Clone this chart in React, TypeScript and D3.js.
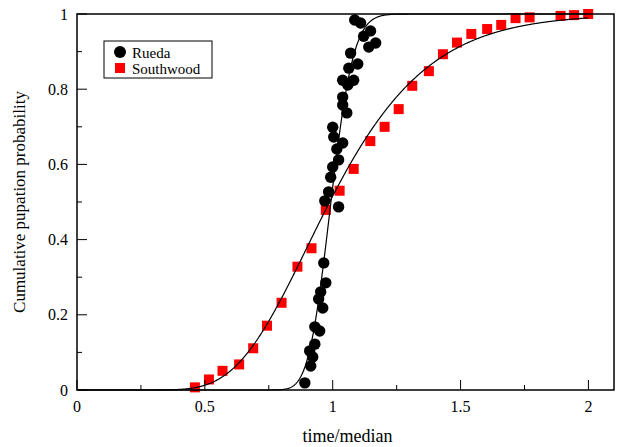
import React from "react";
import * as d3 from "d3";

// Rueda observations: [time/median, cumulative probability]
const ruedaX = [0.891, 0.914, 0.922, 0.910, 0.930, 0.949, 0.930, 0.961, 0.945, 0.953, 0.973, 0.965, 1.023, 0.969, 0.984, 0.992, 1.000, 1.023, 1.016, 1.039, 1.004, 1.000, 1.055, 1.039, 1.039, 1.059, 1.039, 1.082, 1.063, 1.098, 1.070, 1.141, 1.168, 1.121, 1.148, 1.109, 1.086];
const ruedaY = [0.019, 0.064, 0.088, 0.104, 0.122, 0.157, 0.168, 0.218, 0.242, 0.261, 0.285, 0.338, 0.487, 0.503, 0.527, 0.566, 0.593, 0.612, 0.641, 0.657, 0.673, 0.699, 0.737, 0.758, 0.779, 0.811, 0.824, 0.824, 0.856, 0.867, 0.896, 0.912, 0.923, 0.941, 0.955, 0.976, 0.984];

// Southwood observations
const southX = [0.461, 0.516, 0.569, 0.634, 0.689, 0.743, 0.800, 0.862, 0.917, 0.973, 1.027, 1.082, 1.147, 1.203, 1.258, 1.311, 1.376, 1.431, 1.486, 1.542, 1.604, 1.659, 1.715, 1.770, 1.891, 1.944, 1.999];
const southY = [0.007, 0.028, 0.051, 0.068, 0.111, 0.171, 0.232, 0.328, 0.377, 0.479, 0.530, 0.588, 0.662, 0.700, 0.747, 0.809, 0.848, 0.893, 0.924, 0.947, 0.960, 0.971, 0.989, 0.991, 0.995, 0.997, 1.000];

// Fitted log-normal curves: [median, sigma]
const ruedaFit = [0.993, 0.07];
const southFit = [0.988, 0.305];

const xTicks = [0, 0.5, 1, 1.5, 2];
const xTickLabels = ["0", "0.5", "1", "1.5", "2"];
const xMinor = [0.25, 0.75, 1.25, 1.75];
const yTicks = [0, 0.2, 0.4, 0.6, 0.8, 1];
const yTickLabels = ["0", "0.2", "0.4", "0.6", "0.8", "1"];
const yMinor = [0.1, 0.3, 0.5, 0.7, 0.9];

const seriesNames = ["Rueda", "Southwood"];

const W = 617, H = 447;
const left = 77, right = 614, top = 14, bottom = 390;
const font = "'Liberation Serif', 'Times New Roman', serif";

function erf(v: number) {
  const s = v < 0 ? -1 : 1;
  const a = Math.abs(v);
  const t = 1 / (1 + 0.3275911 * a);
  const y = 1 - (((((1.061405429 * t - 1.453152027) * t) + 1.421413741) * t - 0.284496736) * t + 0.254829592) * t * Math.exp(-a * a);
  return s * y;
}

function lognormCdf(p: number[], x: number) {
  const [m, s] = p;
  if (x <= 0) return 0;
  const z = Math.log(x / m) / s;
  return 0.5 * (1 + erf(z / Math.SQRT2));
}

export default function App() {
  const x = d3.scaleLinear().domain([0, 2.1]).range([left, right]);
  const y = d3.scaleLinear().domain([0, 1]).range([bottom, top]);
  const grid = d3.range(0.001, 2.0001, 0.002);
  const line = d3.line<number[]>().x((d) => x(d[0])).y((d) => y(d[1]));
  const ruedaCurve = line(grid.map((g) => [g, lognormCdf(ruedaFit, g)])) || "";
  const southCurve = line(grid.map((g) => [g, lognormCdf(southFit, g)])) || "";
  const sq = 10;

  return (
    <svg width={W} height={H} style={{ position: "absolute", left: 0, top: 0, background: "#fff" }} fontFamily={font}>
      <defs>
        <clipPath id="plotclip">
          <rect x={left} y={top - 1} width={right - left} height={bottom - top + 2} />
        </clipPath>
      </defs>
      <rect x={0} y={0} width={W} height={H} fill="#fff" />
      {/* points */}
      {southX.map((v, i) => (
        <rect key={"s" + i} x={x(v) - sq / 2} y={y(southY[i]) - sq / 2} width={sq} height={sq} fill="#ff0000" />
      ))}
      {ruedaX.map((v, i) => (
        <circle key={"r" + i} cx={x(v)} cy={y(ruedaY[i])} r={5.7} fill="#000" />
      ))}
      {/* curves */}
      <g clipPath="url(#plotclip)">
        <path d={southCurve} fill="none" stroke="#000" strokeWidth={1.2} />
        <path d={ruedaCurve} fill="none" stroke="#000" strokeWidth={1.2} />
      </g>
      {/* frame */}
      <rect x={left} y={top} width={right - left} height={bottom - top} fill="none" stroke="#000" strokeWidth={1.5} />
      {/* x ticks */}
      {xTicks.map((t, i) => (
        <g key={"xt" + i}>
          <line x1={x(t)} x2={x(t)} y1={bottom} y2={bottom - 10} stroke="#000" strokeWidth={1} />
          <text x={x(t)} y={412} textAnchor="middle" fontSize={16}>{xTickLabels[i]}</text>
        </g>
      ))}
      {xMinor.map((t, i) => (
        <line key={"xm" + i} x1={x(t)} x2={x(t)} y1={bottom} y2={bottom - 5} stroke="#000" strokeWidth={1} />
      ))}
      {/* y ticks */}
      {yTicks.map((t, i) => (
        <g key={"yt" + i}>
          <line x1={left} x2={left + 10} y1={y(t)} y2={y(t)} stroke="#000" strokeWidth={1} />
          <text x={68} y={y(t) + 5.5} textAnchor="end" fontSize={16}>{yTickLabels[i]}</text>
        </g>
      ))}
      {yMinor.map((t, i) => (
        <line key={"ym" + i} x1={left} x2={left + 5} y1={y(t)} y2={y(t)} stroke="#000" strokeWidth={1} />
      ))}
      {/* axis labels */}
      <text x={(left + right) / 2 + 2} y={442} textAnchor="middle" fontSize={18}>time/median</text>
      <text transform={`translate(25, ${(top + bottom) / 2}) rotate(-90)`} textAnchor="middle" fontSize={17}>Cumulative pupation probability</text>
      {/* legend */}
      <rect x={104} y={41} width={108} height={37} fill="#fff" stroke="#000" strokeWidth={1} />
      <circle cx={120} cy={52} r={6} fill="#000" />
      <text x={132} y={57.5} fontSize={15}>{seriesNames[0]}</text>
      <rect x={115} y={63} width={10} height={10} fill="#ff0000" />
      <text x={132} y={73.5} fontSize={15}>{seriesNames[1]}</text>
    </svg>
  );
}
